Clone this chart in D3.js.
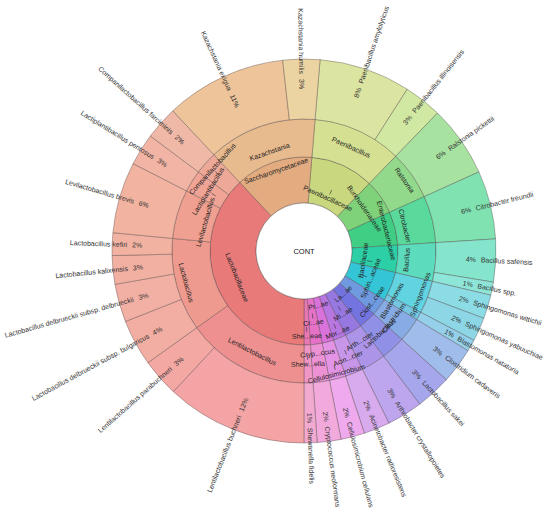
<!DOCTYPE html>
<html><head><meta charset="utf-8">
<script src="https://cdn.jsdelivr.net/npm/d3@7"></script>
<style>
body{margin:0;background:#fff}
text{font-family:"Liberation Sans",Arial,sans-serif}
</style>
</head><body>
<svg id="chart" width="550" height="513"></svg>
<script>
// ---------------- DATA ----------------
const rootName = "CONT";
const species = [
  "Paenibacillus amylolyticus","Paenibacillus illinoisensis","Ralstonia pickettii","Citrobacter freundii",
  "Bacillus safensis","Bacillus spp.","Sphingomonas wittichii","Sphingomonas yabuuchiae","Blastomonas natatoria",
  "Clostridium cadaveris","Lactobacillus sakei","Arthrobacter crystallopoietes","Acinetobacter radioresistens",
  "Cellulosimicrobium cellulans","Cryptococcus neoformans","Shewanella fidelis","Lentilactobacillus buchneri",
  "Lentilactobacillus parabuchneri","Lactobacillus delbrueckii subsp. bulgaricus","Lactobacillus delbrueckii subsp. delbrueckii",
  "Lactobacillus kalixensis","Lactobacillus kefiri","Levilactobacillus brevis","Lactiplantibacillus pentosus",
  "Companilactobacillus farciminis","Kazachstania exigua","Kazachstania humilis"
];
const genera = [
  "Paenibacillus","Paenibacillus","Ralstonia","Citrobacter","Bacillus","Bacillus","Sphingomonas","Sphingomonas",
  "Blastomonas","Clostridium","Lactobacillus","Arthrobacter","Acinetobacter","Cellulosimicrobium","Cryptococcus",
  "Shewanella","Lentilactobacillus","Lentilactobacillus","Lactobacillus","Lactobacillus","Lactobacillus",
  "Lactobacillus","Levilactobacillus","Lactiplantibacillus","Companilactobacillus","Kazachstania","Kazachstania"
];
const families = [
  "Paenibacillaceae","Paenibacillaceae","Burkholderiaceae","Enterobacteriaceae","Bacillaceae","Bacillaceae",
  "Sphingomonadaceae","Sphingomonadaceae","Sphingomonadaceae","Clostridiaceae","Lactobacillaceae","Micrococcaceae",
  "Moraxellaceae","Promicromonosporaceae","Cryptococcaceae","Shewanellaceae","Lactobacillaceae","Lactobacillaceae",
  "Lactobacillaceae","Lactobacillaceae","Lactobacillaceae","Lactobacillaceae","Lactobacillaceae","Lactobacillaceae",
  "Lactobacillaceae","Saccharomycetaceae","Saccharomycetaceae"
];
const values = [7.7,3.2,6.0,5.75,3.6,1.1,2.0,2.0,1.0,3.0,3.0,3.0,2.2,2.0,2.0,1.1,11.9,3.2,3.9,3.2,2.4,1.9,6.0,2.7,2.8,10.2,3.1];
const pctLabels = ["8%","3%","6%","6%","4%","1%","2%","2%","1%","3%","3%","3%","2%","2%","2%","1%","12%","3%","4%","3%","3%","2%","6%","3%","2%","11%","3%"];

// shortened labels shown in narrow wedges
const shortLabels = {
  f6:"Sphin...aceae", f9:"Clost...ceae", f10:"La...ae", f11:"Mi...ae", f12:"Mor...ae",
  f13:"Pr...ae", f14:"Cr...ae", f15:"She...eae",
  g11:"Arth...cter", g12:"Acin...cter", g14:"Cryp...ccus", g15:"Shew...ella"
};

// ---------------- STYLE / LAYOUT ----------------
const W = 550, H = 513, cx = 304, cy = 251;
const ringRadii = [0, 48, 94, 132, 192];
const startDeg = 4.8;
const colors = {
  root:"#ffffff",
  f0:"#c9d77e", f2:"#7fd27a", f3:"#3fce84", f4:"#2ccfa6", f6:"#34c6d6", f9:"#6f9ae0", f10:"#7474e0",
  f11:"#9678e0", f12:"#b876e0", f13:"#da72dc", f14:"#e672c8", f15:"#e878b4", f16:"#e87a7a", f25:"#e2ab80",
  g0:"#d6e092", g2:"#93d98c", g3:"#5ad99c", g4:"#5cdbbd", g6:"#62d3e0", g8:"#74c6e2", g9:"#87abe4",
  g10:"#9090e6", g11:"#ac94e8", g12:"#c896e8", g13:"#e494e4", g14:"#ee92d6", g15:"#f096c6",
  g16:"#ee9090", g18:"#ef9a8e", g22:"#f0a090", g23:"#f0a496", g24:"#eea898", g25:"#e8bb8e",
  s0:"#dce4a2", s1:"#d0e8a2", s2:"#a8e2a0", s3:"#80e2b0", s4:"#84e4cc", s5:"#8ee6d8", s6:"#8cdce6",
  s7:"#8cd6e6", s8:"#94d0ea", s9:"#a0bcea", s10:"#a6a6ec", s11:"#bea6ee", s12:"#d8aaee", s13:"#eeaaec",
  s14:"#f2aadc", s15:"#f2aad0", s16:"#f4a4a4", s17:"#f4a8a4", s18:"#f2aea2", s19:"#f2b0a4", s20:"#f2b0a2",
  s21:"#f2b2a2", s22:"#f2b4a0", s23:"#f2b4a4", s24:"#f0b8a6", s25:"#eec49a", s26:"#ecd4a2"
};
// tangential label radius, tick direction (+1 outward, -1 inward), angle shift (deg)
const labelLayout = {
  f0:[58,1,0], f2:[74,0,0], f3:[85,0,0], f4:[60,1,4], f6:[72,-1,0], f9:[85,0,0], f10:[58,0,0], f11:[74,-1,0], f12:[88,-1,0],
  f13:[56,0,0], f14:[72,-1,0], f15:[85,-1,0], f16:[72,0,0], f25:[85,0,0],
  g0:[114,0,0], g2:[123,0,0], g3:[104,0,0], g4:[103,0,0], g6:[124,0,0], g8:[101,0,0], g9:[112,0,0], g10:[112,0,0],
  g11:[106,0,0], g12:[116,-1,0], g13:[127,-1,0], g14:[103,0,0], g15:[113,-1,0], g16:[113,0,0], g18:[122,0,0],
  g22:[103,0,0], g23:[113,-1,0], g24:[123,-1,0], g25:[105,0,0]
};

// ---------------- BUILD ----------------
function buildTree(){
  const root = {name: rootName, id:"root", children: []};
  let fam = null, gen = null;
  species.forEach((s, i) => {
    if (!fam || fam.name !== families[i]) { fam = {name: families[i], id: "f"+i, children: []}; root.children.push(fam); gen = null; }
    if (!gen || gen.name !== genera[i]) { gen = {name: genera[i], id: "g"+i, children: []}; fam.children.push(gen); }
    gen.children.push({name: s, id: "s"+i, value: values[i], pct: pctLabels[i]});
  });
  return root;
}

const hierarchy = d3.hierarchy(buildTree()).sum(d => d.value || 0);
d3.partition().size([2*Math.PI, 4])(hierarchy);
const off = startDeg * Math.PI / 180;

const arc = d3.arc()
  .startAngle(d => d.x0 + off)
  .endAngle(d => d.x1 + off)
  .innerRadius(d => ringRadii[d.depth])
  .outerRadius(d => ringRadii[d.depth+1]);

const svg = d3.select("#chart");
const g = svg.append("g").attr("transform", `translate(${cx},${cy})`);

g.selectAll("path.node")
  .data(hierarchy.descendants().filter(d => d.depth > 0))
  .join("path")
  .attr("class","node")
  .attr("d", arc)
  .attr("fill", d => colors[d.data.id])
  .attr("stroke", "rgba(70,60,60,0.45)")
  .attr("stroke-width", 0.8);

g.append("circle").attr("r", ringRadii[1]).attr("fill","#fff")
  .attr("stroke","rgba(70,60,60,0.5)").attr("stroke-width",0.8);
g.append("text").text(rootName).attr("text-anchor","middle").attr("dy","0.35em")
  .attr("font-size",7.5).attr("fill","#111");

const deg = d => ((d.x0 + d.x1)/2 + off) * 180 / Math.PI;
const norm = a => ((a % 360) + 360) % 360;

// tangential labels (family & genus)
hierarchy.descendants().filter(d => d.depth === 1 || d.depth === 2).forEach(d => {
  const lay = labelLayout[d.data.id] || [(ringRadii[d.depth]+ringRadii[d.depth+1])/2, 0, 0];
  const th = norm(deg(d) + lay[2]);
  const r = lay[0];
  const rad = th * Math.PI / 180;
  const x = r * Math.sin(rad), y = -r * Math.cos(rad);
  const rot = (th > 90 && th < 270) ? th - 180 : th;
  g.append("text")
    .attr("transform", `translate(${x},${y}) rotate(${rot})`)
    .attr("text-anchor","middle").attr("dy","0.35em")
    .attr("font-size",7).attr("fill","#222")
    .text(shortLabels[d.data.id] || d.data.name);
  if (lay[1]) {
    const r1 = r + lay[1]*4, r2 = r + lay[1]*9;
    g.append("line")
      .attr("x1", r1*Math.sin(rad)).attr("y1", -r1*Math.cos(rad))
      .attr("x2", r2*Math.sin(rad)).attr("y2", -r2*Math.cos(rad))
      .attr("stroke","#333").attr("stroke-width",0.6);
  }
});

// radial species labels
hierarchy.leaves().forEach(d => {
  const th = norm(deg(d));
  const right = th < 180;
  const base = `rotate(${th-90})`;
  g.append("text")
    .attr("transform", right ? `${base} translate(162,0)` : `${base} translate(172,0) rotate(180)`)
    .attr("text-anchor","start").attr("dy","0.35em")
    .attr("font-size",7).attr("fill","#333")
    .text(d.data.pct);
  g.append("text")
    .attr("transform", right ? `${base} translate(177,0)` : `${base} translate(177,0) rotate(180)`)
    .attr("text-anchor", right ? "start" : "end").attr("dy","0.35em")
    .attr("font-size",7).attr("fill","#333")
    .text(d.data.name);
});
</script>
</body></html>
